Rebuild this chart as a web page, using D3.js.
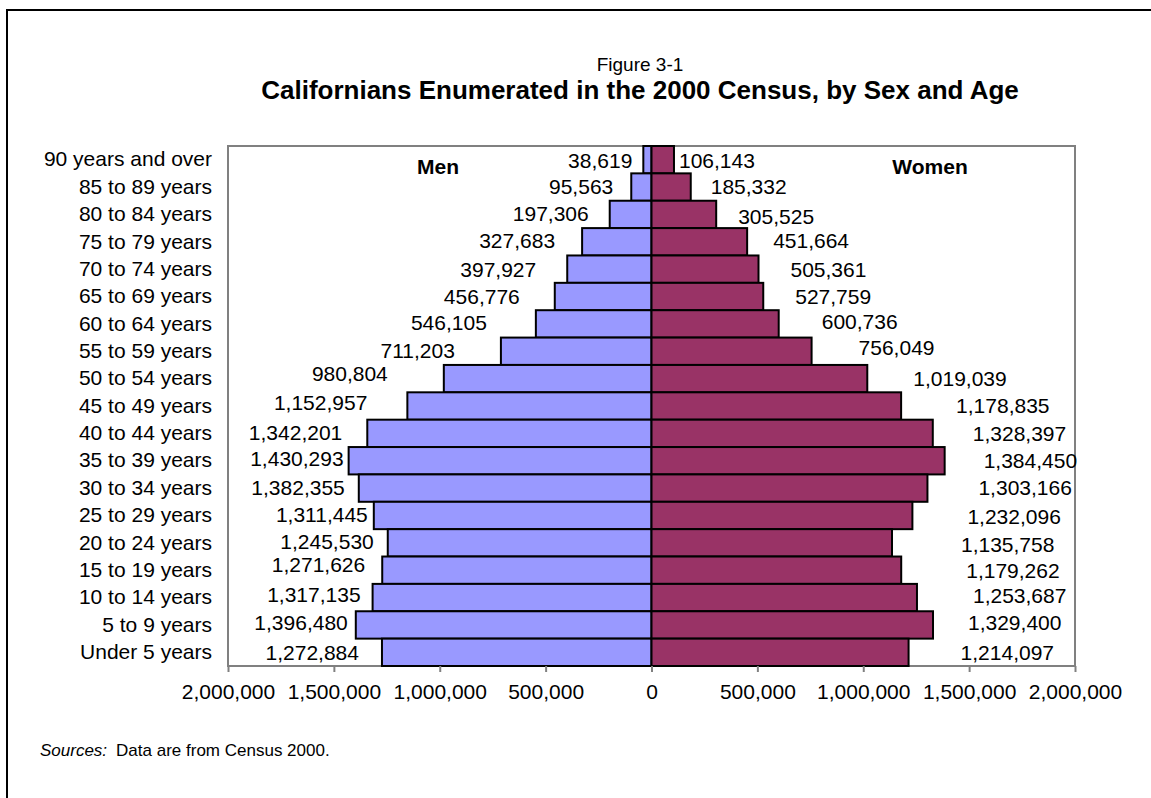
<!DOCTYPE html>
<html>
<head>
<meta charset="utf-8">
<script src="https://cdn.jsdelivr.net/npm/d3@7"></script>
<style>
  html, body { margin: 0; padding: 0; background: #fff; }
  svg { display: block; font-family: "Liberation Sans", Arial, sans-serif; }
</style>
</head>
<body>
<svg id="chart" width="1151" height="798"></svg>
<script>
// Age groups, oldest at the top
const ageGroups = [
  "90 years and over", "85 to 89 years", "80 to 84 years", "75 to 79 years",
  "70 to 74 years", "65 to 69 years", "60 to 64 years", "55 to 59 years",
  "50 to 54 years", "45 to 49 years", "40 to 44 years", "35 to 39 years",
  "30 to 34 years", "25 to 29 years", "20 to 24 years", "15 to 19 years",
  "10 to 14 years", "5 to 9 years", "Under 5 years"
];

const men = [
  38619, 95563, 197306, 327683, 397927, 456776, 546105, 711203, 980804,
  1152957, 1342201, 1430293, 1382355, 1311445, 1245530, 1271626, 1317135,
  1396480, 1272884
];

const women = [
  106143, 185332, 305525, 451664, 505361, 527759, 600736, 756049, 1019039,
  1178835, 1328397, 1384450, 1303166, 1232096, 1135758, 1179262, 1253687,
  1329400, 1214097
];

const tickValues = [-2000000, -1500000, -1000000, -500000, 0, 500000, 1000000, 1500000, 2000000];

// Hand-placed value labels: horizontal gap from the bar end and vertical nudge (px)
const menLabelGap = [11, 18, 21, 27, 31, 35, 49, 46, 56, 40, 25, 5, 14, 6, 14, 17, 12, 8, 23];
const menLabelDy  = [1, 0, -1, -1, 0, 0, -1, -1, -5, -3, -1, -2, 0, -1, -1, -6, -3, -2, 0];
const womenLabelGap = [5, 20, 22, 26, 32, 32, 43, 47, 46, 55, 40, 39, 51, 55, 69, 65, 56, 35, 52];
const womenLabelDy  = [1, 0, 2, -1, 0, 0, -2, -4, 0, 0, 0, 0, 0, 1, 2, 0, -2, -2, 0];

const svg = d3.select("#chart");
const fmt = d3.format(",");

const plot = { left: 228, right: 1075, top: 146, bottom: 666 };

const x = d3.scaleLinear().domain([-2000000, 2000000]).range([plot.left, plot.right]);
const y = d3.scaleBand().domain(ageGroups).range([plot.top, plot.bottom]).padding(0);

// Outer frame
svg.append("rect")
  .attr("x", 7).attr("y", 10)
  .attr("width", 1170).attr("height", 820)
  .attr("fill", "none").attr("stroke", "#000").attr("stroke-width", 2);

// Titles
svg.append("text")
  .attr("x", 640).attr("y", 71)
  .attr("text-anchor", "middle")
  .attr("font-size", 19)
  .text("Figure 3-1");
svg.append("text")
  .attr("x", 640).attr("y", 99)
  .attr("text-anchor", "middle")
  .attr("font-size", 26).attr("font-weight", "bold")
  .text("Californians Enumerated in the 2000 Census, by Sex and Age");

// Plot area frame
svg.append("rect")
  .attr("x", plot.left).attr("y", plot.top)
  .attr("width", plot.right - plot.left).attr("height", plot.bottom - plot.top)
  .attr("fill", "#fff").attr("stroke", "#808080").attr("stroke-width", 2);

// Bars
const rows = ageGroups.map((g, i) => ({ g, i, m: men[i], w: women[i] }));

svg.append("g").selectAll("rect")
  .data(rows).join("rect")
  .attr("x", d => x(-d.m))
  .attr("y", d => y(d.g))
  .attr("width", d => x(0) - x(-d.m))
  .attr("height", y.bandwidth())
  .attr("fill", "#9999FF")
  .attr("stroke", "#000").attr("stroke-width", 2);

svg.append("g").selectAll("rect")
  .data(rows).join("rect")
  .attr("x", x(0))
  .attr("y", d => y(d.g))
  .attr("width", d => x(d.w) - x(0))
  .attr("height", y.bandwidth())
  .attr("fill", "#993366")
  .attr("stroke", "#000").attr("stroke-width", 2);

// Value labels
svg.append("g").selectAll("text")
  .data(rows).join("text")
  .attr("x", d => x(-d.m) - menLabelGap[d.i])
  .attr("y", d => y(d.g) + y.bandwidth() / 2 + menLabelDy[d.i])
  .attr("dy", "0.35em")
  .attr("text-anchor", "end")
  .attr("font-size", 21)
  .text(d => fmt(d.m));

svg.append("g").selectAll("text")
  .data(rows).join("text")
  .attr("x", d => x(d.w) + womenLabelGap[d.i])
  .attr("y", d => y(d.g) + y.bandwidth() / 2 + womenLabelDy[d.i])
  .attr("dy", "0.35em")
  .attr("text-anchor", "start")
  .attr("font-size", 21)
  .text(d => fmt(d.w));

// Series names inside the plot
svg.append("text")
  .attr("x", 438).attr("y", 174)
  .attr("text-anchor", "middle")
  .attr("font-size", 21).attr("font-weight", "bold")
  .text("Men");
svg.append("text")
  .attr("x", 930).attr("y", 174)
  .attr("text-anchor", "middle")
  .attr("font-size", 21).attr("font-weight", "bold")
  .text("Women");

// Category axis (labels only)
const yAxis = svg.append("g")
  .attr("transform", `translate(${plot.left},0)`)
  .call(d3.axisLeft(y).tickSize(0).tickPadding(16));
yAxis.select(".domain").remove();
yAxis.selectAll("text")
  .attr("font-size", 21)
  .attr("font-family", "Liberation Sans, Arial, sans-serif")
  .attr("fill", "#000");

// Value axis
const xAxis = svg.append("g")
  .attr("transform", `translate(0,${plot.bottom})`)
  .call(d3.axisBottom(x).tickValues(tickValues).tickSize(6).tickPadding(12)
    .tickFormat(v => fmt(Math.abs(v))));
xAxis.select(".domain").remove();
xAxis.selectAll("line").attr("stroke", "#808080").attr("stroke-width", 2);
xAxis.selectAll("text")
  .attr("font-size", 21)
  .attr("font-family", "Liberation Sans, Arial, sans-serif")
  .attr("fill", "#000");

// Source note
const note = svg.append("text")
  .attr("x", 40).attr("y", 756)
  .attr("font-size", 17);
note.append("tspan").attr("font-style", "italic").text("Sources:");
note.append("tspan").attr("dx", 9).text("Data are from Census 2000.");
</script>
</body>
</html>
